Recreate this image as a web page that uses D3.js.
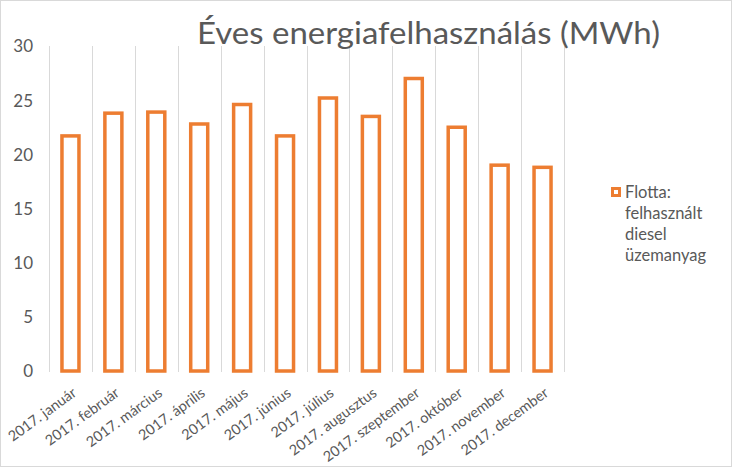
<!DOCTYPE html>
<html><head><meta charset="utf-8">
<script src="https://cdn.jsdelivr.net/npm/d3@7"></script>
<style>body{margin:0;background:#fff}svg{display:block}text{font-family:Lato,"Open Sans",sans-serif}</style>
</head><body>
<svg id="c" width="733" height="468"></svg>
<script>
const categories = ["2017. január","2017. február","2017. március","2017. április","2017. május","2017. június","2017. július","2017. augusztus","2017. szeptember","2017. október","2017. november","2017. december"];
const values = [21.7, 23.8, 23.9, 22.8, 24.6, 21.7, 25.2, 23.5, 27.0, 22.5, 19.0, 18.8];
const yTicks = [0, 5, 10, 15, 20, 25, 30];
const title = "Éves energiafelhasználás (MWh)";
const legendLines = ["Flotta:", "felhasznált", "diesel", "üzemanyag"];

const svg = d3.select("#c");
const W = 733, H = 468;
const m = {l: 49, r: 564, t: 46, b: 371};
const orange = "#ED7D31", grid = "#d9d9d9", txt = "#595959";

svg.append("rect").attr("x",0.5).attr("y",0.5).attr("width",W-2).attr("height",H-2)
  .attr("fill","#fff").attr("stroke","#d9d9d9").attr("stroke-width",1);

const x = d3.scaleBand().domain(categories).range([m.l, m.r]).paddingInner(0).paddingOuter(0);
const y = d3.scaleLinear().domain([0, 30]).range([m.b, m.t]);

// vertical gridlines at category boundaries
const bounds = categories.map(c => x(c)).concat([m.r]);
svg.append("g").selectAll("line").data(bounds).join("line")
  .attr("x1", d => Math.round(d)+0.5).attr("x2", d => Math.round(d)+0.5)
  .attr("y1", m.t).attr("y2", m.b+1)
  .attr("stroke", grid).attr("stroke-width", 1);

// y axis labels
const yAxis = d3.axisLeft(y).tickValues(yTicks).tickSize(0).tickPadding(0);
const gy = svg.append("g").attr("transform", `translate(33,0)`).call(yAxis);
gy.select(".domain").remove();
gy.selectAll("text").attr("fill", txt).style("font-size","17px").style("font-family","Lato,sans-serif").attr("dy","0.35em");

// bars
const bw = 17;
svg.append("g").selectAll("rect").data(values).join("rect")
  .attr("x", (d,i) => x(categories[i]) + x.bandwidth()/2 - bw/2)
  .attr("y", d => y(d))
  .attr("width", bw)
  .attr("height", d => y(0) - y(d))
  .attr("fill", "none").attr("stroke", orange).attr("stroke-width", 3.5);

// x labels (rotated)
svg.append("g").selectAll("text").data(categories).join("text")
  .attr("text-anchor","end")
  .attr("transform", d => `translate(${x(d) + x.bandwidth()/2 + 7},395) rotate(-36)`)
  .attr("fill", txt).style("font-size","14.5px")
  .text(d => d);

// title
svg.append("text").attr("x", 197).attr("y", 44)
  .attr("textLength", 463).attr("lengthAdjust","spacingAndGlyphs")
  .attr("fill", txt).style("font-size","30px").text(title);

// legend
svg.append("rect").attr("x", 612.5).attr("y", 188.5).attr("width", 7).attr("height", 7)
  .attr("fill","#fff").attr("stroke", orange).attr("stroke-width", 3);
svg.append("g").selectAll("text").data(legendLines).join("text")
  .attr("x", 625).attr("y", (d,i) => 198 + i*21)
  .attr("fill", txt).style("font-size","16.5px").text(d => d);
</script>
</body></html>
